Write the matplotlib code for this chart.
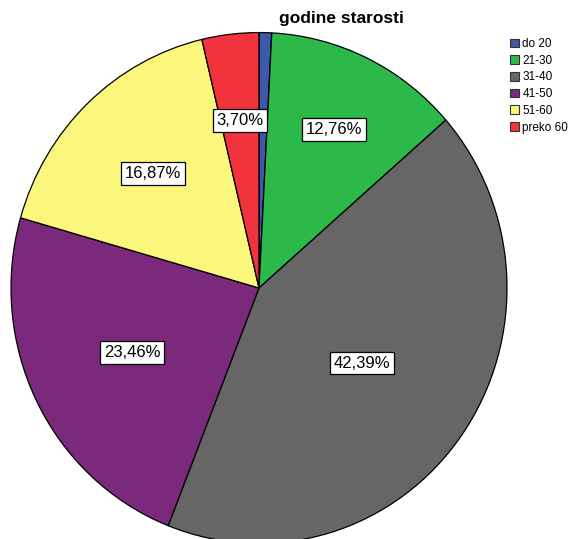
import numpy as np
import matplotlib.pyplot as plt
from matplotlib.patches import Patch

plt.rcParams['font.family'] = ['Liberation Sans', 'DejaVu Sans']

labels = ['do 20', '21-30', '31-40', '41-50', '51-60', 'preko 60']
shares = [0.82, 12.76, 42.39, 23.46, 16.87, 3.70]
colors = ['#3e58ac', '#2db84a', '#666666', '#7b2a7b', '#fbf77c', '#f0333c']
# how far out each percentage box sits (fraction of radius); None = no box
label_dist = [None, 0.69, 0.51, 0.57, 0.62, 0.66]

W, H = 571, 539
stretch = 1.03  # pie is drawn slightly taller than wide
fig = plt.figure(figsize=(W / 100, H / 100), dpi=100)
ax = fig.add_axes([0, 0, 1, 1])

cx, cy, r = 259, (H - 288) / stretch, 248
wedges, _ = ax.pie(shares, colors=colors, startangle=90, counterclock=False,
                   center=(cx, cy), radius=r, frame=True,
                   wedgeprops=dict(edgecolor='black', linewidth=0.9))
ax.set_xlim(0, W)
ax.set_ylim(0, H / stretch)
ax.set_aspect('auto')
ax.axis('off')

for w, val, d in zip(wedges, shares, label_dist):
    if d is None:
        continue
    ang = np.deg2rad((w.theta1 + w.theta2) / 2)
    x = cx + d * r * np.cos(ang)
    y = cy + d * r * np.sin(ang)
    ax.text(x, y, f'{val:.2f}%'.replace('.', ','), ha='center', va='center',
            fontsize=12,
            bbox=dict(boxstyle='square,pad=0.22', facecolor='white',
                      edgecolor='black', linewidth=0.9))

fig.text(341 / W, 1 - 18 / H, 'godine starosti', ha='center', va='center',
         fontsize=12.5, fontweight='bold')

handles = [Patch(facecolor=c, edgecolor='#333333', linewidth=0.8) for c in colors]
fig.legend(handles, labels, loc='upper left', bbox_to_anchor=(510 / W, 1 - 38 / H),
           frameon=False, fontsize=8.5, handlelength=0.75, handleheight=0.75,
           handletextpad=0.3, labelspacing=0.4, borderaxespad=0, borderpad=0)

fig.savefig('out.png', dpi=100)
